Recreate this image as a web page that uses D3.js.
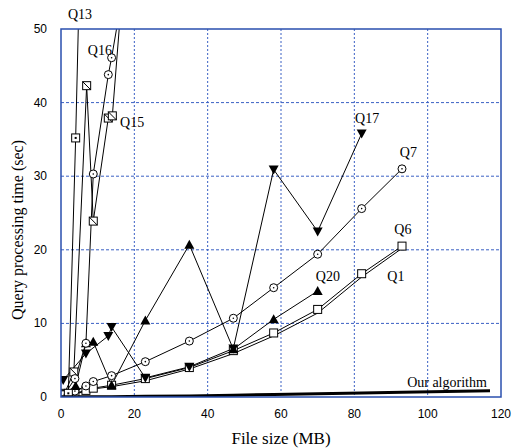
<!DOCTYPE html>
<html>
<head>
<meta charset="utf-8">
<script src="https://cdn.jsdelivr.net/npm/d3@7"></script>
<style>
  body { margin: 0; background: #fff; }
  .tick-label { font-family: "Liberation Sans", Arial, sans-serif; font-size: 12px; fill: #000; }
  .series-label { font-family: "Liberation Serif", "Times New Roman", serif; font-size: 14px; fill: #000; }
  .axis-title { font-family: "Liberation Serif", "Times New Roman", serif; font-size: 17px; fill: #000; }
</style>
</head>
<body>
<div id="chart"></div>
<script>
// ticks
const xTicks = [0, 20, 40, 60, 80, 100, 120];
const yTicks = [0, 10, 20, 30, 40, 50];

// series values (file size MB, seconds)
const q13X = [1, 2, 4, 6];
const q13Y = [0.3, 0.5, 35.2, 77];

const q16X = [1, 3.8, 6.8, 8.8, 12.9, 13.8, 23];
const q16Y = [0.4, 2.5, 7.3, 30.3, 43.8, 46.1, 72.8];

const q15X = [1, 3.5, 7, 8.8, 12.9, 14, 23];
const q15Y = [0.5, 3.4, 42.3, 23.9, 37.9, 38.2, 95];

const q17X = [0.6, 6.8, 12.9, 13.8, 23, 35, 47, 58, 70, 82];
const q17Y = [2.3, 5.9, 8.3, 9.5, 2.6, 4.1, 6.6, 30.9, 22.5, 35.8];

const q20X = [1, 4, 6.8, 8.8, 13.8, 23, 35, 47, 58, 70];
const q20Y = [0.3, 1.5, 7.3, 7.5, 1.6, 10.4, 20.7, 6.5, 10.55, 14.4];

const q7X = [1, 3.8, 6.8, 8.8, 13.8, 23, 35, 47, 58, 70, 82, 93];
const q7Y = [0.2, 0.8, 1.5, 2.1, 2.9, 4.8, 7.6, 10.7, 14.85, 19.4, 25.6, 31.0];

const q6X = [1, 3.8, 6.8, 8.8, 13.8, 23, 35, 47, 58, 70, 82, 93];
const q6Y = [0.1, 0.5, 0.9, 1.2, 1.6, 2.5, 4.0, 6.3, 8.7, 11.9, 16.75, 20.5];

const q1X = [1, 3.8, 6.8, 8.8, 13.8, 23, 35, 47, 58, 70, 82, 93];
const q1Y = [0.1, 0.4, 0.8, 1.1, 1.4, 2.2, 3.8, 5.9, 8.3, 11.4, 16.3, 20.2];

const oursX = [0, 13.8, 23, 35, 47, 58, 70, 82, 93, 117];
const oursY = [0.02, 0.05, 0.1, 0.15, 0.25, 0.35, 0.45, 0.55, 0.65, 0.85];

// label anchors in data units
const labelNames = ['Q13', 'Q16', 'Q15', 'Q17', 'Q7', 'Q6', 'Q20', 'Q1', 'Our algorithm'];
const labelX = [5.2, 10.6, 16.1, 80.2, 92.4, 90.9, 69.5, 89, 94.4];
const labelY = [51.4, 46.5, 36.7, 37.2, 32.6, 22.2, 15.7, 15.7, 1.4];
const labelAnchor = ['middle', 'middle', 'start', 'start', 'start', 'start', 'start', 'start', 'start'];

const w = 512, h = 448;
const pLeft = 61, pRight = 501, pTop = 29, pBottom = 397;
const serif = '"Liberation Serif", "Times New Roman", serif';

const svg = d3.select('#chart').append('svg')
    .attr('width', w)
    .attr('height', h);

const xScale = d3.scaleLinear().domain([0, 120]).range([pLeft, pRight]);
const yScale = d3.scaleLinear().domain([0, 50]).range([pBottom, pTop]);

svg.append('clipPath').attr('id', 'plotClip')
  .append('rect')
    .attr('x', pLeft).attr('y', pTop)
    .attr('width', pRight - pLeft).attr('height', pBottom - pTop);

// grid
const gridColor = '#3a60c4';
svg.append('g').selectAll('line.vgrid')
    .data(xTicks.slice(1, -1))
    .enter().append('line')
    .attr('x1', d => xScale(d)).attr('x2', d => xScale(d))
    .attr('y1', pTop).attr('y2', pBottom)
    .attr('stroke', gridColor).attr('stroke-width', 1)
    .attr('stroke-dasharray', '2,2');

svg.append('g').selectAll('line.hgrid')
    .data(yTicks.slice(1, -1))
    .enter().append('line')
    .attr('x1', pLeft).attr('x2', pRight)
    .attr('y1', d => yScale(d)).attr('y2', d => yScale(d))
    .attr('stroke', gridColor).attr('stroke-width', 1)
    .attr('stroke-dasharray', '3,2');

// tick labels
svg.selectAll('text.xt')
    .data(xTicks)
    .enter().append('text')
    .attr('class', 'tick-label')
    .attr('x', d => xScale(d))
    .attr('y', 418)
    .attr('text-anchor', 'middle')
    .text(d => d);

svg.selectAll('text.yt')
    .data(yTicks)
    .enter().append('text')
    .attr('class', 'tick-label')
    .attr('x', 47)
    .attr('y', d => yScale(d) + 4)
    .attr('text-anchor', 'end')
    .text(d => d);

// series
const plot = svg.append('g').attr('clip-path', 'url(#plotClip)');
const line = d3.line().x(d => xScale(d[0])).y(d => yScale(d[1]));
const zip = (xs, ys) => xs.map((x, i) => [x, ys[i]]);

const series = [
  { pts: zip(q1X, q1Y), marker: 'none' },
  { pts: zip(q6X, q6Y), marker: 'square' },
  { pts: zip(q7X, q7Y), marker: 'circle' },
  { pts: zip(q20X, q20Y), marker: 'up' },
  { pts: zip(q17X, q17Y), marker: 'down' },
  { pts: zip(q15X, q15Y), marker: 'squareDiag' },
  { pts: zip(q16X, q16Y), marker: 'circle' },
  { pts: zip(q13X, q13Y), marker: 'squareDot' }
];

series.forEach(s => {
  plot.append('path')
    .datum(s.pts)
    .attr('d', line)
    .attr('fill', 'none')
    .attr('stroke', '#000')
    .attr('stroke-width', 1);
});

series.forEach(s => {
  if (s.marker === 'none') return;
  const g = plot.append('g');
  const m = g.selectAll('g').data(s.pts).enter().append('g')
      .attr('transform', d => 'translate(' + xScale(d[0]) + ',' + yScale(d[1]) + ')');
  if (s.marker === 'circle') {
    m.append('circle').attr('r', 4).attr('fill', '#fff').attr('stroke', '#000');
    m.append('circle').attr('r', 0.8).attr('fill', '#000');
  } else if (s.marker === 'square' || s.marker === 'squareDiag' || s.marker === 'squareDot') {
    m.append('rect').attr('x', -4).attr('y', -4).attr('width', 8).attr('height', 8)
      .attr('fill', '#fff').attr('stroke', '#000');
    if (s.marker === 'squareDiag') {
      m.append('line').attr('x1', -4).attr('y1', -4).attr('x2', 4).attr('y2', 4).attr('stroke', '#000');
    }
    if (s.marker === 'squareDot') {
      m.append('rect').attr('x', -1).attr('y', -1).attr('width', 2).attr('height', 2).attr('fill', '#000');
    }
  } else if (s.marker === 'up') {
    m.append('path').attr('d', 'M0,-5L5,4L-5,4Z').attr('fill', '#000');
  } else if (s.marker === 'down') {
    m.append('path').attr('d', 'M0,5L5,-4L-5,-4Z').attr('fill', '#000');
  }
});

// our algorithm: thick line near zero
plot.append('path')
    .datum(zip(oursX, oursY))
    .attr('d', line)
    .attr('fill', 'none')
    .attr('stroke', '#000')
    .attr('stroke-width', 3);

// plot border
svg.append('rect')
    .attr('x', pLeft).attr('y', pTop)
    .attr('width', pRight - pLeft).attr('height', pBottom - pTop)
    .attr('fill', 'none')
    .attr('stroke', '#2a4fae')
    .attr('stroke-width', 1.5);

// series labels
svg.selectAll('text.sl')
    .data(labelNames)
    .enter().append('text')
    .attr('class', 'series-label')
    .attr('x', (d, i) => xScale(labelX[i]))
    .attr('y', (d, i) => yScale(labelY[i]))
    .attr('text-anchor', (d, i) => labelAnchor[i])
    .text(d => d);

// axis titles
svg.append('text')
    .attr('x', 281)
    .attr('y', 444)
    .attr('text-anchor', 'middle')
    .attr('font-family', serif)
    .attr('font-size', 17)
    .text('File size (MB)');

svg.append('text')
    .attr('transform', 'translate(23,' + 230 + ') rotate(-90)')
    .attr('text-anchor', 'middle')
    .attr('font-family', serif)
    .attr('font-size', 16)
    .text('Query processing time (sec)');
</script>
</body>
</html>
